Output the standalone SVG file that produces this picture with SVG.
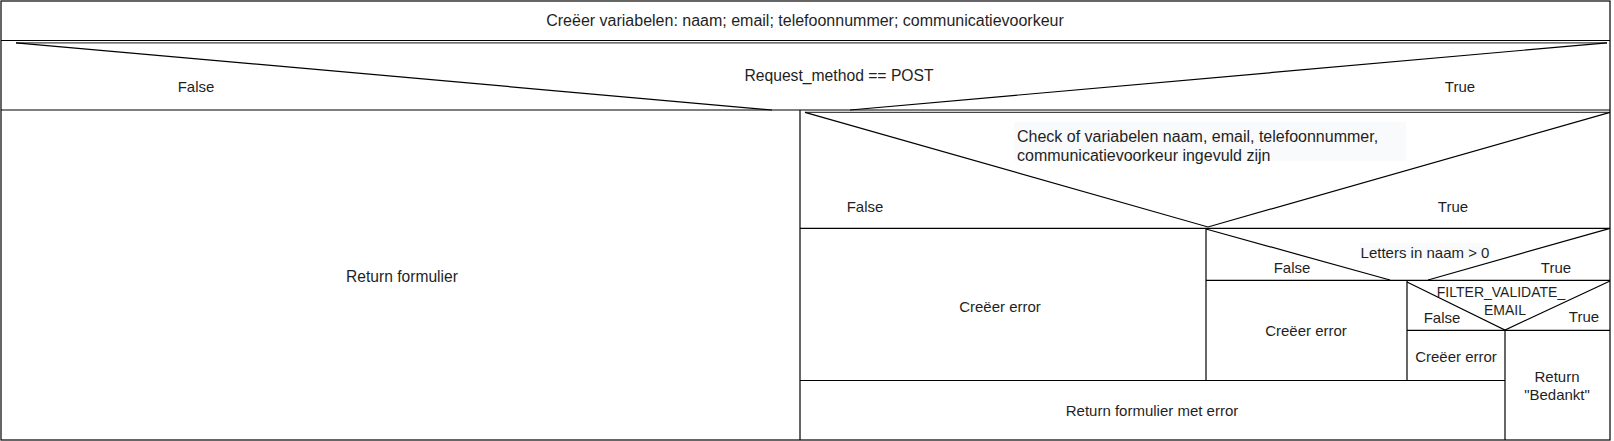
<svg xmlns="http://www.w3.org/2000/svg" width="1614" height="441" viewBox="0 0 1614 441">
<style>
.ln{stroke:#000;stroke-width:1.2;fill:none}
.tl{stroke:#444;stroke-width:1.2;fill:none}
.t{font-family:"Liberation Sans",Arial,sans-serif;font-size:15px;fill:#1f1f1f;text-anchor:middle;dominant-baseline:central}
.tlft{text-anchor:start}
.big{font-size:16px}
.bg{fill:#f9fafb;stroke:none}
</style>
<rect x="0" y="0" width="1614" height="441" fill="#fff"/>
<g id="frame"><rect class="ln" x="1" y="1" width="1609" height="439"/></g>
<g id="init">
<line class="ln" x1="1" y1="40.5" x2="1610" y2="40.5"/>
<text class="t big" x="805" y="20">Creëer variabelen: naam; email; telefoonnummer; communicatievoorkeur</text>
</g>
<g id="decision-post">
<line class="tl" x1="16" y1="42.8" x2="1607" y2="42.8"/>
<polyline class="ln" points="16,42.8 772,110"/>
<polyline class="ln" points="850,110 1607,42.8"/>
<line class="ln" x1="1" y1="110" x2="1610" y2="110"/>
<text class="t" x="839" y="75" style="font-size:15.7px">Request_method == POST</text>
<text class="t" x="196" y="86">False</text>
<text class="t" x="1460" y="86">True</text>
</g>
<g id="return-formulier">
<line class="ln" x1="800" y1="110" x2="800" y2="440"/>
<text class="t" x="402" y="276" style="font-size:15.6px">Return formulier</text>
</g>
<g id="decision-ingevuld">
<line class="tl" x1="805" y1="112.3" x2="1610" y2="112.3"/>
<polyline class="ln" points="805,112.3 1208,227 1610,112.3"/>
<line class="ln" x1="800" y1="228.3" x2="1610" y2="228.3"/>
<rect class="bg" x="1014" y="122" width="392" height="39"/>
<text class="t tlft big" x="1017" y="136">Check of variabelen naam, email, telefoonnummer,</text>
<text class="t tlft big" x="1017" y="155">communicatievoorkeur ingevuld zijn</text>
<text class="t" x="865" y="206">False</text>
<text class="t" x="1453" y="206">True</text>
</g>
<g id="creeer-error-1">
<line class="ln" x1="1206" y1="228.3" x2="1206" y2="380.5"/>
<text class="t" x="1000" y="306">Creëer error</text>
</g>
<g id="decision-letters">
<polyline class="ln" points="1206,229 1390,280"/>
<polyline class="ln" points="1428,280 1610,228.3"/>
<line class="ln" x1="1206" y1="280.3" x2="1610" y2="280.3"/>
<rect class="bg" x="1360" y="243" width="130" height="16"/>
<text class="t" x="1425" y="252">Letters in naam &gt; 0</text>
<text class="t" x="1292" y="267">False</text>
<text class="t" x="1556" y="267">True</text>
</g>
<g id="creeer-error-2">
<line class="ln" x1="1407" y1="280.3" x2="1407" y2="380.5"/>
<text class="t" x="1306" y="330">Creëer error</text>
</g>
<g id="decision-email">
<polyline class="ln" points="1407,282 1505,330 1610,281"/>
<line class="ln" x1="1407" y1="330.3" x2="1610" y2="330.3"/>
<text class="t" x="1501" y="292" style="font-size:14px">FILTER_VALIDATE_</text>
<text class="t" x="1505" y="310" style="font-size:14px">EMAIL</text>
<text class="t" x="1442" y="317">False</text>
<text class="t" x="1584" y="316">True</text>
</g>
<g id="creeer-error-3">
<text class="t" x="1456" y="356">Creëer error</text>
</g>
<g id="return-bedankt">
<line class="ln" x1="1505" y1="330.3" x2="1505" y2="440"/>
<text class="t" x="1557" y="376">Return</text>
<text class="t" x="1557" y="394">"Bedankt"</text>
</g>
<g id="return-met-error">
<line class="ln" x1="800" y1="380.5" x2="1505" y2="380.5"/>
<text class="t" x="1152" y="410">Return formulier met error</text>
</g>
<g id="connectors"></g>
</svg>
